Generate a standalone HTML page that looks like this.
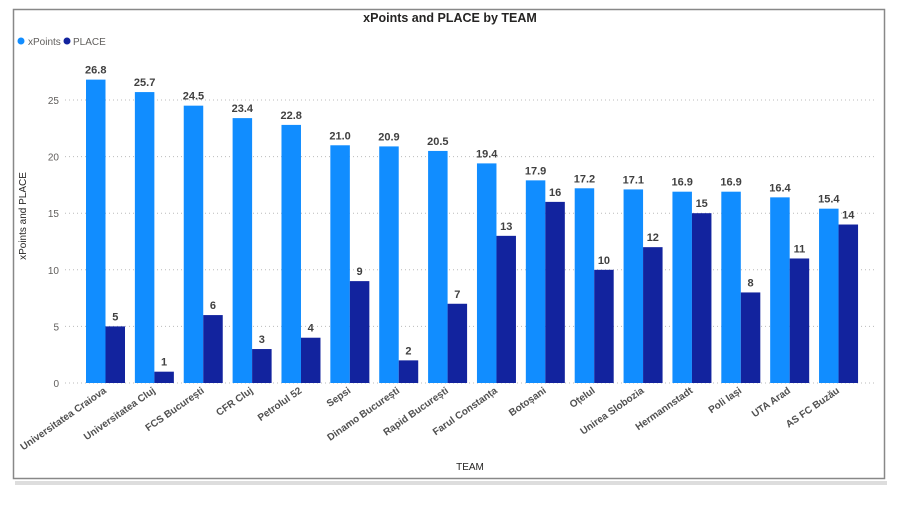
<!DOCTYPE html>
<html><head><meta charset="utf-8"><style>
html,body{margin:0;padding:0;background:#fff;width:900px;height:506px;overflow:hidden}
svg text{font-family:"Liberation Sans",sans-serif}
</style></head><body>
<svg id="s" width="900" height="506" xmlns="http://www.w3.org/2000/svg">
<rect x="15" y="481" width="872" height="4" fill="#ddd"/>
<rect x="13.5" y="9.5" width="871" height="469" fill="#fff" stroke="#888" stroke-width="1.5"/>
<text x="450" y="22" text-anchor="middle" font-size="12.5" font-weight="bold" fill="#252423">xPoints and PLACE by TEAM</text>
<circle cx="21" cy="41" r="3.5" fill="#118DFF"/><text x="28" y="45" font-size="10" fill="#605E5C">xPoints</text>
<circle cx="67" cy="41" r="3.5" fill="#12239E"/><text x="73" y="45" font-size="10" fill="#605E5C">PLACE</text>
<text transform="translate(26,216) rotate(-90)" text-anchor="middle" font-size="10" fill="#252423">xPoints and PLACE</text>
<text x="470" y="470" text-anchor="middle" font-size="10" fill="#252423">TEAM</text>
<g id="g"></g>
</svg>
<script>
var teams=["Universitatea Craiova","Universitatea Cluj","FCS București","CFR Cluj","Petrolul 52","Sepsi","Dinamo București","Rapid București","Farul Constanța","Botoșani","Oțelul","Unirea Slobozia","Hermannstadt","Poli Iași","UTA Arad","AS FC Buzău"];
var xp=[26.8,25.7,24.5,23.4,22.8,21.0,20.9,20.5,19.4,17.9,17.2,17.1,16.9,16.9,16.4,15.4];
var pl=[5,1,6,3,4,9,2,7,13,16,10,12,15,8,11,14];
var y0=383,k=11.32,h='';
for(var v=0;v<=25;v+=5){var y=y0-v*k;h+='<line x1="65" x2="877" y1="'+y+'" y2="'+y+'" stroke="#bbb" stroke-dasharray="1,3"/>';h+='<text x="59" y="'+(y+4)+'" text-anchor="end" font-size="10" fill="#605E5C">'+v+'</text>';}
for(var i=0;i<16;i++){var x=86+i*48.87;var a=xp[i]*k,b=pl[i]*k;
h+='<rect x="'+x+'" y="'+(y0-a)+'" width="19.5" height="'+a+'" fill="#118DFF"/>';
h+='<rect x="'+(x+19.5)+'" y="'+(y0-b)+'" width="19.5" height="'+b+'" fill="#12239E"/>';
h+='<text x="'+(x+9.75)+'" y="'+(y0-a-6)+'" text-anchor="middle" font-size="11" font-weight="bold" fill="#404040">'+xp[i].toFixed(1)+'</text>';
h+='<text x="'+(x+29.25)+'" y="'+(y0-b-6)+'" text-anchor="middle" font-size="11" font-weight="bold" fill="#404040">'+pl[i]+'</text>';
h+='<text transform="translate('+(x+21)+',392) rotate(-35)" text-anchor="end" font-size="10" font-weight="bold" fill="#505050">'+teams[i]+'</text>';}
document.getElementById('g').innerHTML=h;
</script>
</body></html>
